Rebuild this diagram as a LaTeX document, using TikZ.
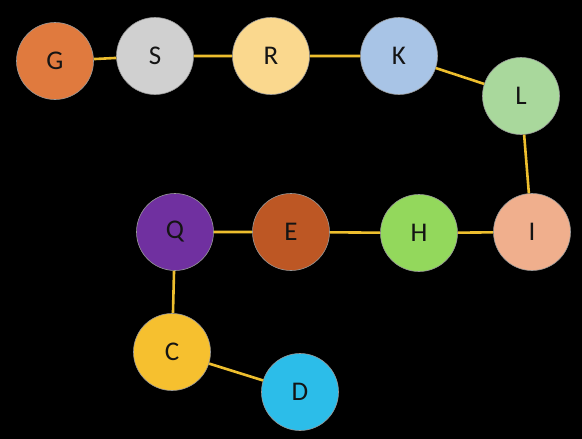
\documentclass[tikz,border=0pt]{standalone}
\usepackage{fontspec}
\setmainfont{Carlito}
\definecolor{edgec}{HTML}{EDBE2E}
\definecolor{cG}{HTML}{E07A3E}
\definecolor{cS}{HTML}{D0D0D0}
\definecolor{cR}{HTML}{FAD88E}
\definecolor{cK}{HTML}{A8C4E6}
\definecolor{cL}{HTML}{A9D89C}
\definecolor{cI}{HTML}{F0AF8D}
\definecolor{cH}{HTML}{93D85C}
\definecolor{cE}{HTML}{BD5724}
\definecolor{cQ}{HTML}{7030A0}
\definecolor{cC}{HTML}{F6C02F}
\definecolor{cD}{HTML}{2CBDE9}
\definecolor{txt}{HTML}{141414}
\begin{document}
\begin{tikzpicture}[x=1pt,y=-1pt,
  vtx/.style={circle,minimum size=77pt,inner sep=0pt,draw=black!40,line width=0.6pt,
    font=\fontsize{27}{27}\selectfont,text=txt},
  link/.style={draw=edgec,line width=2.6pt}]
\fill[black] (0,0) rectangle (582,439);
\useasboundingbox (0,0) rectangle (582,439);
\node[vtx,fill=cG] (G) at (55,61) {G};
\node[vtx,fill=cS] (S) at (155,56) {S};
\node[vtx,fill=cR] (R) at (271,56) {R};
\node[vtx,fill=cK] (K) at (399,56) {K};
\node[vtx,fill=cL] (L) at (521,96) {L};
\node[vtx,fill=cI] (I) at (532,232) {I};
\node[vtx,fill=cH] (H) at (419,233) {H};
\node[vtx,fill=cE] (E) at (291,232) {E};
\node[vtx,fill=cQ] (Q) at (175,232) {Q};
\node[vtx,fill=cC] (C) at (172,352) {C};
\node[vtx,fill=cD] (D) at (300,392) {D};
\path[link] (G) -- (S) (S) -- (R) (R) -- (K) (K) -- (L) (L) -- (I)
  (I) -- (H) (H) -- (E) (E) -- (Q) (Q) -- (C) (C) -- (D);
\end{tikzpicture}
\end{document}
